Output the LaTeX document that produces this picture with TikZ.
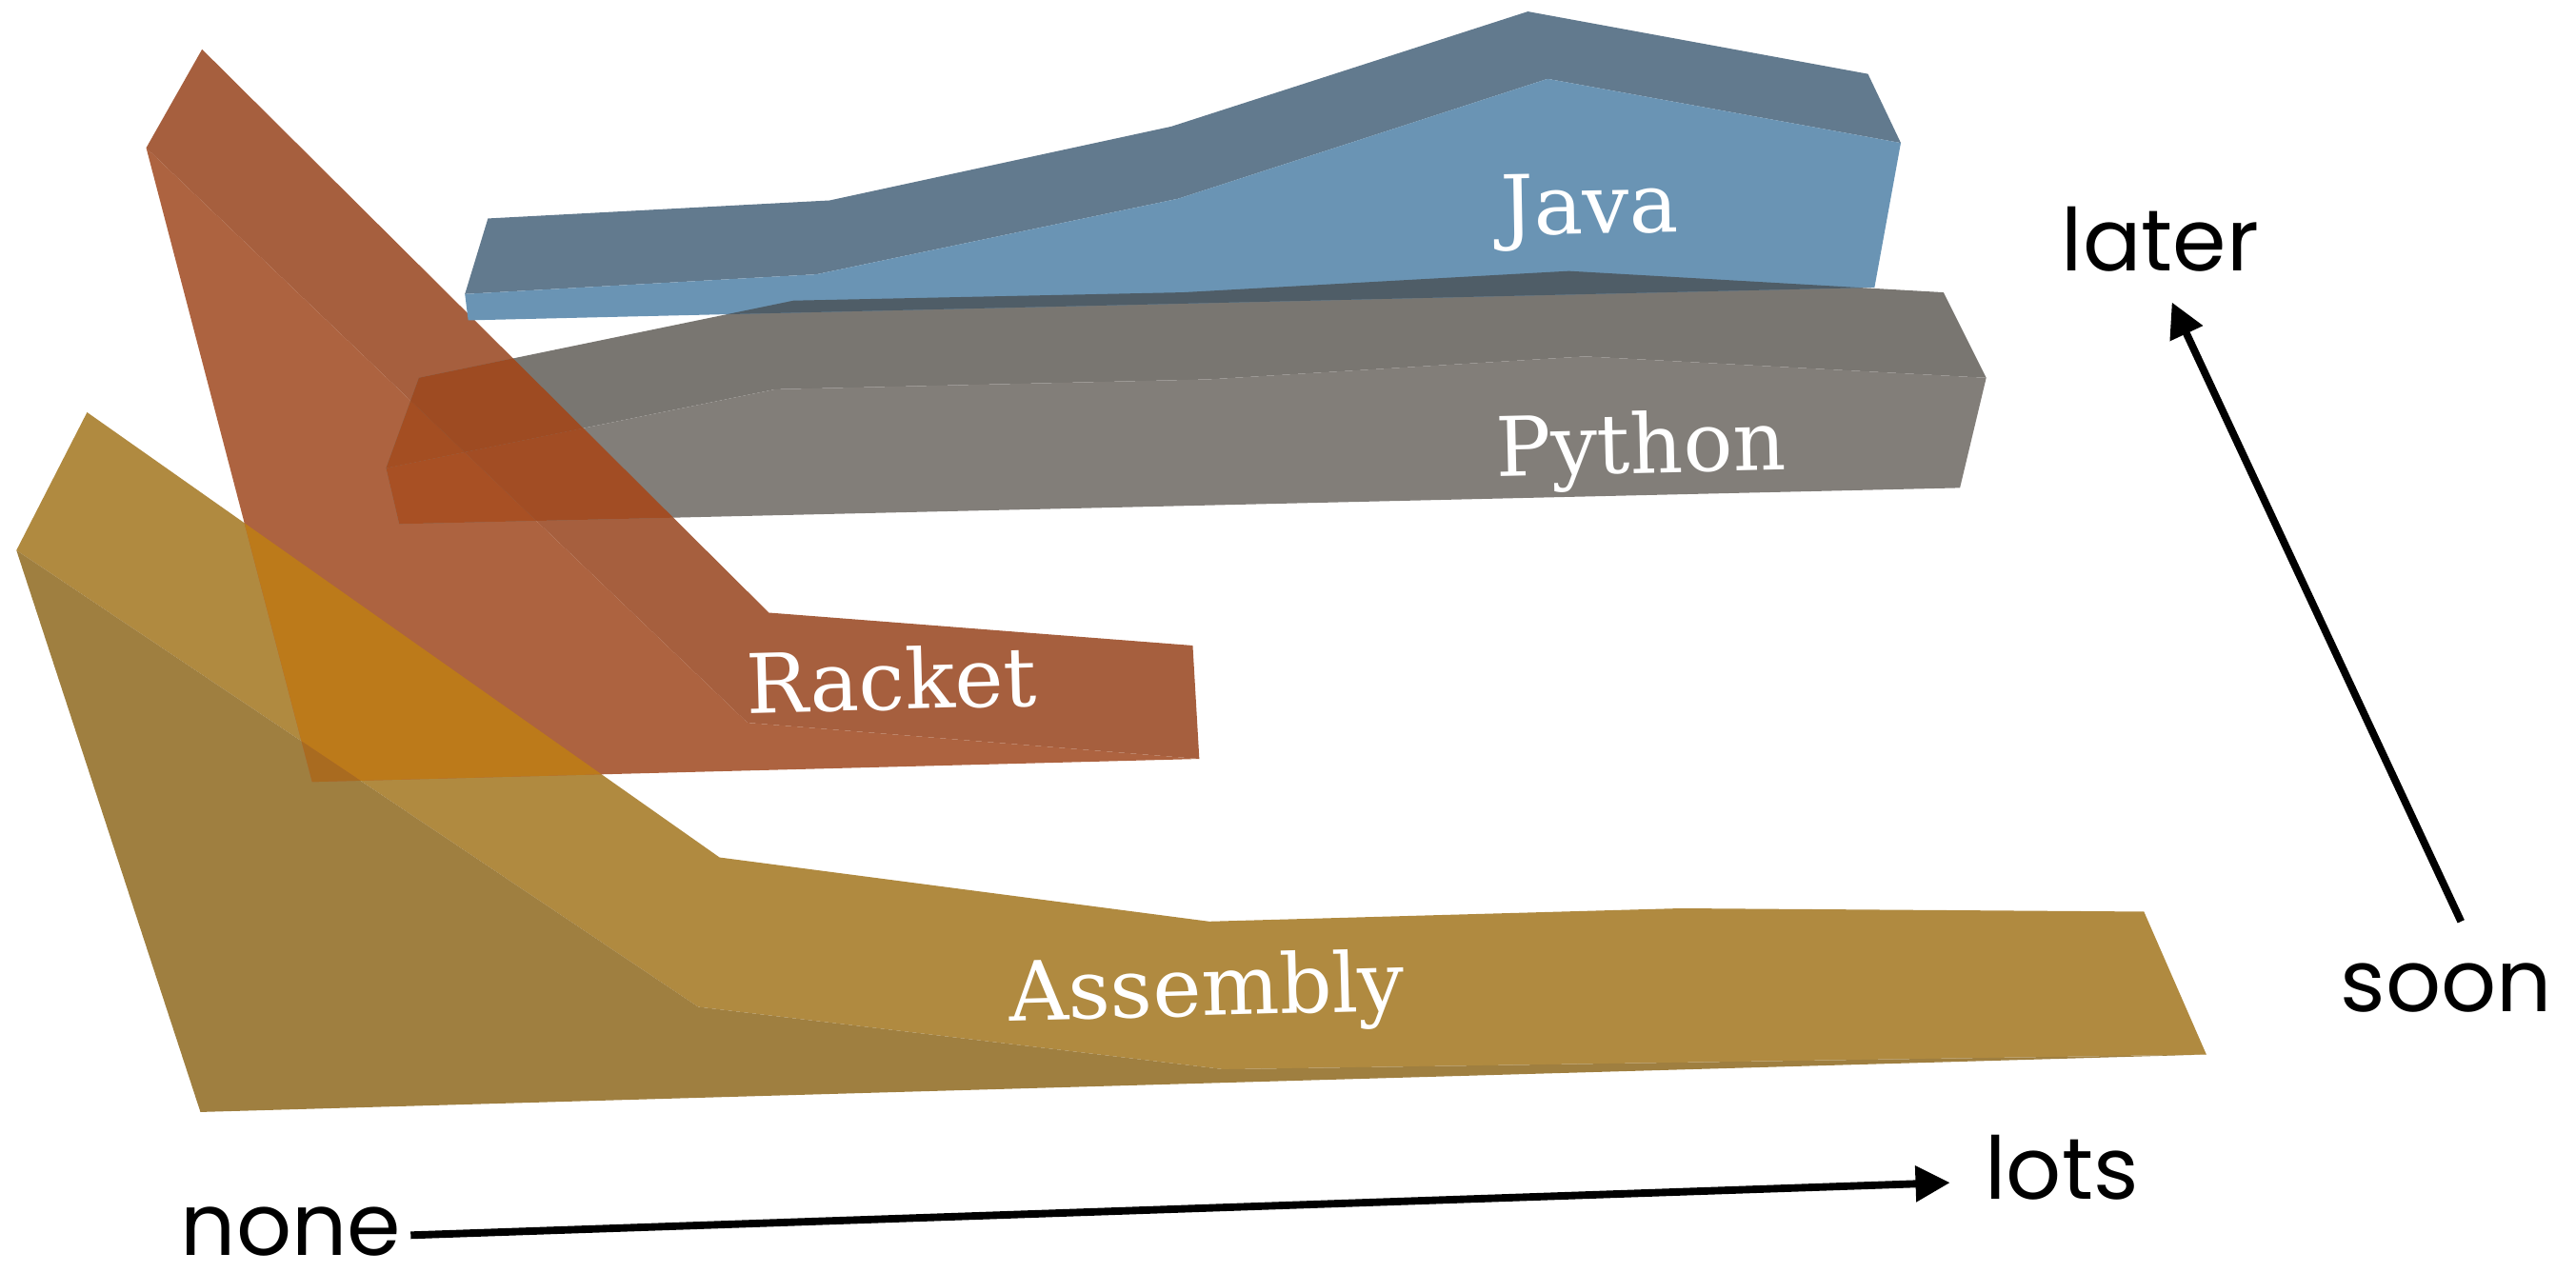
\documentclass[tikz,border=0pt]{standalone}
\usepackage{fontspec}
\newfontfamily\lblfont{DejaVu Serif}
\newfontfamily\handfont{Poppins}
\usetikzlibrary{arrows.meta}
\definecolor{asmTop}{HTML}{B08A40}
\definecolor{asmFront}{HTML}{9F7F40}
\definecolor{racTop}{HTML}{A65F3E}
\definecolor{racFront}{HTML}{AD6340}
\definecolor{pyTop}{HTML}{797671}
\definecolor{pyFront}{HTML}{827E79}
\definecolor{javaTop}{HTML}{627A8E}
\definecolor{javaFront}{HTML}{6A94B4}
\definecolor{ovJP}{HTML}{4F5D67}
\definecolor{ovRA}{HTML}{BC7A1A}
\definecolor{ovRAf}{HTML}{A96B20}
\definecolor{ovRPtt}{HTML}{9E4B22}
\definecolor{ovRPft}{HTML}{A44E22}
\definecolor{ovRPff}{HTML}{A85024}
\definecolor{ovRPtf}{HTML}{A24D24}
\def\asmTopP{(53,251) -- (438,522) -- (736,561) -- (1023,553) -- (1305,555) -- (1343,642) -- (745,651) -- (425,613) -- (10,335) -- cycle}
\def\asmFrontP{(10,335) -- (425,613) -- (745,651) -- (1343,642) -- (122,677) -- cycle}
\def\racTopP{(123,30) -- (468,373) -- (726,393) -- (730,462) -- (455,440) -- (89,90) -- cycle}
\def\racFrontP{(89,90) -- (455,440) -- (730,462) -- (190,476) -- cycle}
\def\pyTopP{(255,230) -- (483,183) -- (720,178) -- (955,165) -- (1183,178) -- (1209,230) -- (965,217) -- (735,231) -- (472,237) -- (235,285) -- cycle}
\def\pyFrontP{(235,285) -- (472,237) -- (735,231) -- (965,217) -- (1209,230) -- (1193,297) -- (243,319) -- cycle}
\def\javaTopP{(283,179) -- (297,133) -- (505,122) -- (713,77) -- (930,7) -- (1137,45) -- (1157,87) -- (942,48) -- (717,121) -- (497,167) -- cycle}
\def\javaFrontP{(283,179) -- (497,167) -- (717,121) -- (942,48) -- (1157,87) -- (1141,175) -- (285,195) -- cycle}
\def\javaAllP{(283,179) -- (297,133) -- (505,122) -- (713,77) -- (930,7) -- (1137,45) -- (1157,87) -- (1141,175) -- (285,195) -- cycle}
\tikzset{
  lbl/.style={text=white, font=\lblfont\fontsize{28.5}{30}\selectfont, anchor=base, inner sep=0pt},
  hand/.style={text=black, font=\handfont\fontsize{30}{32}\selectfont, anchor=base, inner sep=0pt},
  axisarrow/.style={line width=2.6pt, -{Triangle[length=0.42cm,width=0.42cm]}}
}
\begin{document}
\begin{tikzpicture}[x=0.02cm, y=-0.02cm]
\useasboundingbox (0,0) rectangle (1568,775);
% faces
\fill[asmTop] \asmTopP;
\fill[asmFront] \asmFrontP;
\fill[racTop] \racTopP;
\fill[racFront] \racFrontP;
\fill[pyTop] \pyTopP;
\fill[pyFront] \pyFrontP;
\fill[javaTop] \javaTopP;
\fill[javaFront] \javaFrontP;
% overlaps
\begin{scope}
  \clip \racFrontP;
  \fill[ovRA] \asmTopP;
  \fill[ovRAf] \asmFrontP;
  \fill[ovRPft] \pyTopP;
  \fill[ovRPff] \pyFrontP;
\end{scope}
\begin{scope}
  \clip \racTopP;
  \fill[ovRPtt] \pyTopP;
  \fill[ovRPtf] \pyFrontP;
\end{scope}
\begin{scope}
  \clip \javaAllP;
  \fill[ovJP] \pyTopP;
\end{scope}
% labels
\node[lbl, rotate=1] (java) at (968,142) {Java};
\node[lbl, rotate=1.3] (python) at (999,288) {Python};
\node[lbl, rotate=1.5] (racket) at (543,432) {Racket};
\node[lbl, rotate=1.5] (assembly) at (735,618.4) {Assembly};
% axes
\node[hand] (none) at (177,764) {none};
\node[hand] (lots) at (1255,730) {lots};
\node[hand] (later) at (1315,165) {later};
\node[hand] (soon) at (1489,616) {soon};
\coordinate (hstart) at (250,752);
\coordinate (hend) at (1187,720);
\coordinate (vstart) at (1498,561);
\coordinate (vend) at (1322,184);
\draw[axisarrow] (hstart) -- (hend);
\draw[axisarrow] (vstart) -- (vend);
\end{tikzpicture}
\end{document}
